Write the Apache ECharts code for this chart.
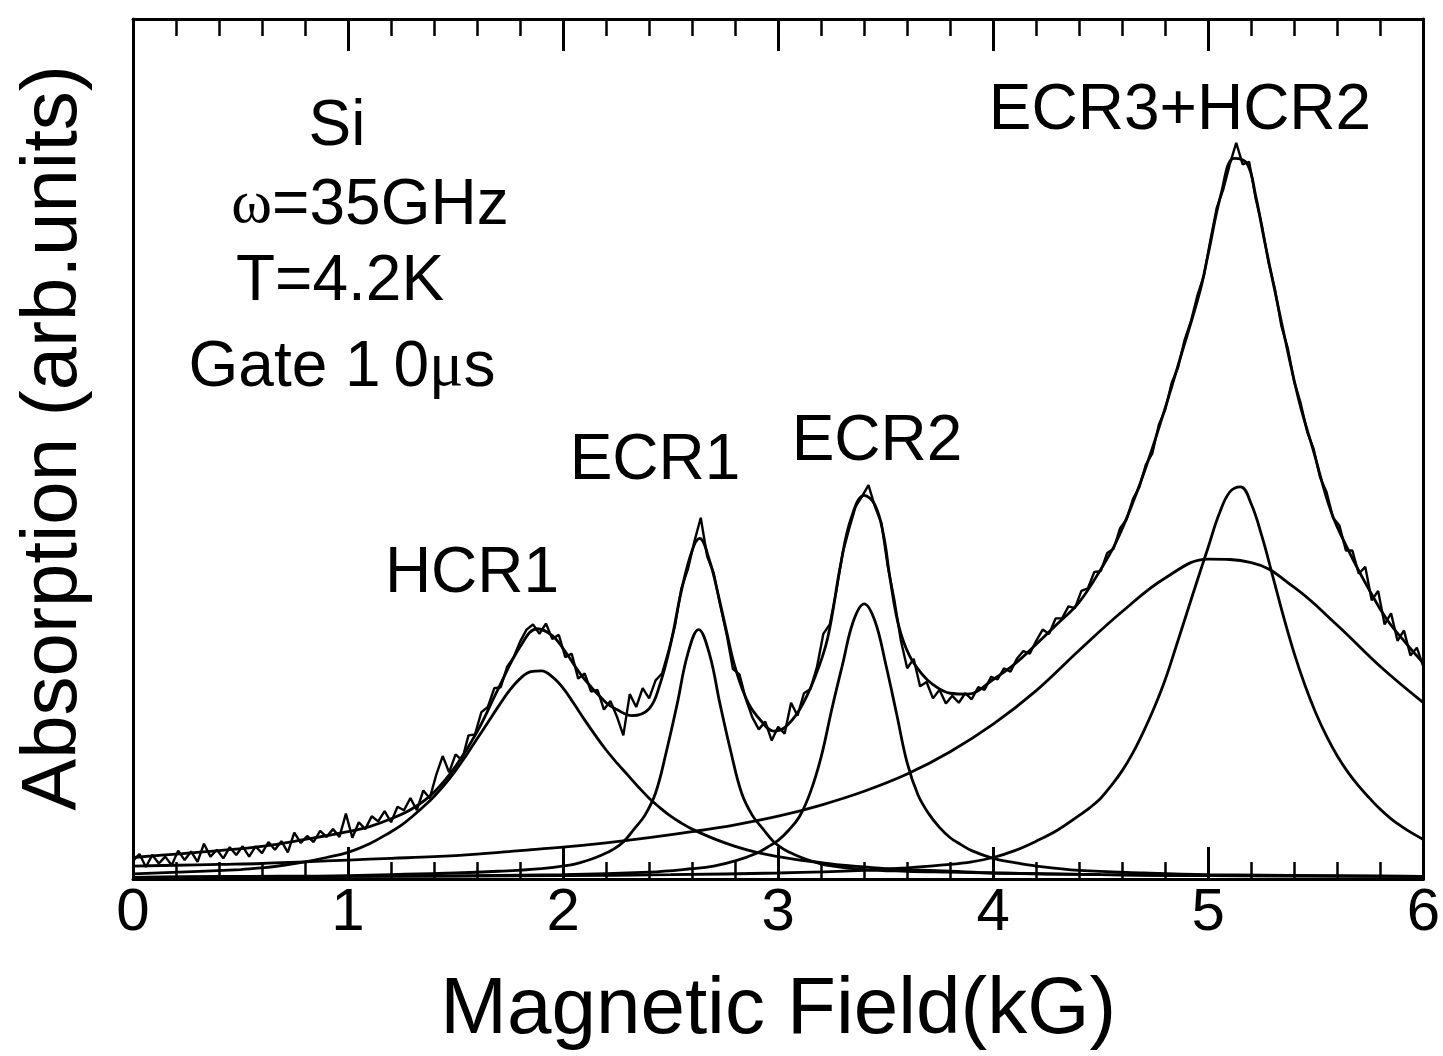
<!DOCTYPE html>
<html>
<head>
<meta charset="utf-8">
<title>Si cyclotron resonance absorption</title>
<script src="https://cdn.jsdelivr.net/npm/echarts/dist/echarts.min.js"></script>
<style>
  html, body { margin: 0; padding: 0; background: #ffffff; }
  #chart { width: 1443px; height: 1056px; }
</style>
</head>
<body>
<div id="chart"></div>
<script>
// Magnetic field axis (kG)
const fieldMin = 0;
const fieldMax = 6;
const fieldStep = 1;

// Measured absorption trace: one reading every 0.03 kG starting at 0 kG
const scanStart = 0;
const scanStep = 0.03;
const scanSignal = [
  0.021, 0.029, 0.014, 0.028, 0.018, 0.026, 0.016, 0.033, 0.022, 0.032,
  0.020, 0.041, 0.026, 0.034, 0.024, 0.037, 0.028, 0.038, 0.026, 0.038,
  0.030, 0.043, 0.034, 0.044, 0.031, 0.054, 0.042, 0.050, 0.043, 0.056,
  0.049, 0.058, 0.049, 0.076, 0.048, 0.066, 0.058, 0.073, 0.067, 0.079,
  0.066, 0.084, 0.080, 0.094, 0.080, 0.103, 0.094, 0.121, 0.143, 0.124,
  0.145, 0.138, 0.167, 0.168, 0.194, 0.200, 0.222, 0.223, 0.247, 0.258,
  0.276, 0.290, 0.296, 0.285, 0.297, 0.279, 0.284, 0.258, 0.262, 0.233,
  0.239, 0.218, 0.220, 0.197, 0.207, 0.189, 0.167, 0.215, 0.200, 0.222,
  0.210, 0.231, 0.239, 0.265, 0.294, 0.338, 0.360, 0.392, 0.420, 0.375,
  0.356, 0.319, 0.285, 0.244, 0.238, 0.209, 0.188, 0.174, 0.183, 0.161,
  0.177, 0.169, 0.205, 0.190, 0.216, 0.221, 0.246, 0.285, 0.296, 0.334,
  0.379, 0.407, 0.433, 0.445, 0.458, 0.433, 0.414, 0.363, 0.325, 0.278,
  0.245, 0.256, 0.224, 0.229, 0.210, 0.220, 0.204, 0.213, 0.205, 0.216,
  0.209, 0.223, 0.220, 0.235, 0.232, 0.245, 0.241, 0.256, 0.265, 0.262,
  0.277, 0.290, 0.285, 0.303, 0.303, 0.317, 0.315, 0.335, 0.338, 0.357,
  0.358, 0.379, 0.384, 0.408, 0.418, 0.442, 0.456, 0.482, 0.495, 0.528,
  0.546, 0.577, 0.595, 0.627, 0.649, 0.679, 0.702, 0.743, 0.781, 0.802,
  0.831, 0.856, 0.831, 0.834, 0.792, 0.759, 0.717, 0.686, 0.643, 0.617,
  0.578, 0.553, 0.520, 0.500, 0.467, 0.450, 0.420, 0.411, 0.382, 0.382,
  0.355, 0.363, 0.324, 0.335, 0.296, 0.309, 0.277, 0.289, 0.260, 0.269,
  0.247
];

// Total fitted line shape [field kG, absorption]
const fitTotal = [
  [0.0, 0.025], [0.2, 0.029], [0.4, 0.033], [0.6, 0.038], [0.8, 0.046],
  [1.0, 0.055], [1.1, 0.061], [1.2, 0.070], [1.3, 0.082], [1.4, 0.101],
  [1.5, 0.131], [1.6, 0.171], [1.7, 0.222], [1.8, 0.270], [1.88, 0.291],
  [1.95, 0.283], [2.0, 0.268], [2.1, 0.232], [2.2, 0.205], [2.25, 0.197],
  [2.32, 0.190], [2.4, 0.198], [2.45, 0.226], [2.5, 0.273], [2.55, 0.335],
  [2.6, 0.382], [2.635, 0.396], [2.68, 0.371], [2.72, 0.332], [2.76, 0.288],
  [2.8, 0.246], [2.86, 0.205], [2.92, 0.184], [2.98, 0.172], [3.03, 0.176],
  [3.1, 0.197], [3.17, 0.234], [3.23, 0.280], [3.29, 0.365], [3.34, 0.420],
  [3.40, 0.446], [3.45, 0.435], [3.49, 0.400], [3.52, 0.350], [3.56, 0.295],
  [3.61, 0.260], [3.67, 0.238], [3.72, 0.226], [3.8, 0.216], [3.88, 0.215],
  [4.0, 0.232], [4.1, 0.250], [4.2, 0.273], [4.3, 0.297], [4.4, 0.322],
  [4.5, 0.360], [4.57, 0.391], [4.65, 0.438], [4.72, 0.486], [4.8, 0.548],
  [4.87, 0.606], [4.96, 0.682], [5.0, 0.727], [5.06, 0.797], [5.12, 0.838],
  [5.18, 0.832], [5.22, 0.795], [5.26, 0.744], [5.34, 0.648], [5.42, 0.558],
  [5.49, 0.497], [5.57, 0.428], [5.65, 0.383], [5.74, 0.340], [5.83, 0.302],
  [5.92, 0.274], [6.0, 0.251]
];

// Heavy-hole cyclotron resonance, first line
const hcr1 = [
  [0.0, 0.006], [0.5, 0.011], [0.6, 0.013], [0.7, 0.016], [0.8, 0.020],
  [0.9, 0.025], [1.0, 0.031], [1.1, 0.041], [1.2, 0.055], [1.25, 0.063],
  [1.3, 0.073], [1.35, 0.084], [1.4, 0.096], [1.45, 0.110], [1.5, 0.126],
  [1.55, 0.144], [1.6, 0.163], [1.65, 0.182], [1.7, 0.201], [1.75, 0.219],
  [1.8, 0.233], [1.85, 0.241], [1.9, 0.242], [1.95, 0.235], [2.0, 0.222],
  [2.05, 0.204], [2.1, 0.185], [2.15, 0.167], [2.2, 0.150], [2.25, 0.135],
  [2.3, 0.121], [2.35, 0.107], [2.4, 0.094], [2.45, 0.083], [2.5, 0.073],
  [2.55, 0.065], [2.6, 0.058], [2.7, 0.047], [2.8, 0.038], [2.9, 0.031],
  [3.0, 0.026], [3.1, 0.022], [3.2, 0.019], [3.3, 0.016], [3.4, 0.014],
  [3.5, 0.012], [3.6, 0.011], [3.8, 0.009], [4.0, 0.007], [4.5, 0.005],
  [5.0, 0.004], [6.0, 0.003]
];

// Electron cyclotron resonance, first line
const ecr1 = [
  [0.0, 0.002], [0.5, 0.003], [1.0, 0.004], [1.5, 0.007], [1.7, 0.009],
  [1.9, 0.012], [2.03, 0.016], [2.08, 0.019], [2.13, 0.023], [2.18, 0.028],
  [2.23, 0.034], [2.28, 0.043], [2.33, 0.058], [2.38, 0.074], [2.43, 0.100],
  [2.48, 0.148], [2.53, 0.203], [2.58, 0.262], [2.63, 0.290], [2.68, 0.262],
  [2.73, 0.203], [2.78, 0.148], [2.83, 0.100], [2.88, 0.074], [2.93, 0.058],
  [2.98, 0.043], [3.03, 0.034], [3.08, 0.028], [3.13, 0.023], [3.18, 0.019],
  [3.23, 0.016], [3.4, 0.011], [3.6, 0.009], [3.8, 0.008], [4.0, 0.007],
  [4.5, 0.005], [5.0, 0.004], [6.0, 0.003]
];

// Electron cyclotron resonance, second line
const ecr2 = [
  [0.0, 0.002], [1.0, 0.003], [2.0, 0.005], [2.4, 0.008], [2.6, 0.012],
  [2.7, 0.015], [2.8, 0.021], [2.9, 0.030], [2.95, 0.037], [3.0, 0.045],
  [3.05, 0.057], [3.1, 0.073], [3.15, 0.101], [3.2, 0.142], [3.25, 0.198],
  [3.3, 0.250], [3.35, 0.300], [3.40, 0.320], [3.45, 0.300], [3.5, 0.250],
  [3.55, 0.193], [3.6, 0.135], [3.65, 0.098], [3.7, 0.076], [3.75, 0.060],
  [3.8, 0.048], [3.85, 0.040], [3.9, 0.033], [4.0, 0.024], [4.1, 0.019],
  [4.2, 0.015], [4.4, 0.010], [4.7, 0.007], [5.0, 0.005], [5.5, 0.004],
  [6.0, 0.003]
];

// Broad component of the high-field band
const ecr3 = [
  [0.0, 0.015], [0.2, 0.016], [0.4, 0.017], [0.6, 0.018], [0.8, 0.020],
  [1.0, 0.022], [1.2, 0.024], [1.4, 0.026], [1.6, 0.029], [1.8, 0.033],
  [2.0, 0.037], [2.2, 0.042], [2.4, 0.048], [2.6, 0.055], [2.8, 0.063],
  [3.0, 0.073], [3.2, 0.086], [3.4, 0.102], [3.6, 0.122], [3.8, 0.148],
  [4.0, 0.180], [4.2, 0.219], [4.4, 0.266], [4.6, 0.311], [4.8, 0.350],
  [5.0, 0.372], [5.2, 0.368], [5.4, 0.339], [5.6, 0.295], [5.8, 0.247],
  [6.0, 0.205]
];

// Narrow component of the high-field band
const hcr2 = [
  [0.0, 0.002], [1.0, 0.003], [2.0, 0.004], [2.5, 0.005], [3.0, 0.007],
  [3.4, 0.010], [3.6, 0.013], [3.8, 0.017], [3.9, 0.020], [4.0, 0.025],
  [4.1, 0.033], [4.2, 0.044], [4.3, 0.057], [4.4, 0.074], [4.45, 0.083],
  [4.5, 0.094], [4.55, 0.109], [4.6, 0.126], [4.65, 0.147], [4.7, 0.172],
  [4.75, 0.200], [4.8, 0.232], [4.85, 0.270], [4.9, 0.309], [4.95, 0.348],
  [5.0, 0.386], [5.05, 0.424], [5.1, 0.450], [5.15, 0.456], [5.2, 0.436],
  [5.25, 0.398], [5.3, 0.352], [5.35, 0.305], [5.4, 0.262], [5.45, 0.225],
  [5.5, 0.193], [5.55, 0.166], [5.6, 0.143], [5.65, 0.124], [5.7, 0.108],
  [5.75, 0.094], [5.8, 0.081], [5.85, 0.070], [5.9, 0.061], [5.95, 0.053],
  [6.0, 0.046]
];

// Text labels
const xTitle = 'Magnetic Field(kG)';
const yTitle = 'Absorption (arb.units)';

const scanData = scanSignal.map((v, i) => [+(scanStart + i * scanStep).toFixed(3), v]);

const FONT = '"Liberation Sans", Arial, Helvetica, sans-serif';
const SERIF = '"Liberation Serif", "DejaVu Serif", serif';
const INK = '#000000';

function fittedLine(name, data, width) {
  return {
    name: name,
    type: 'line',
    data: data,
    smooth: 0.4,
    showSymbol: false,
    silent: true,
    lineStyle: { color: INK, width: width },
    z: 2
  };
}

function frameAxis(position, showLabels) {
  return {
    type: 'value',
    position: position,
    min: fieldMin,
    max: fieldMax,
    interval: fieldStep,
    axisLine: { show: true, onZero: false, lineStyle: { color: INK, width: 3 } },
    axisTick: { show: true, inside: true, length: 32, lineStyle: { color: INK, width: 3 } },
    minorTick: { show: true, splitNumber: 5, length: 17, lineStyle: { color: INK, width: 2.5 } },
    axisLabel: {
      show: showLabels, color: INK, fontFamily: FONT, fontSize: 60, margin: 4,
      formatter: v => String(v)
    },
    splitLine: { show: false },
    minorSplitLine: { show: false }
  };
}

const chart = echarts.init(document.getElementById('chart'), null, { renderer: 'canvas' });

const bottomAxis = Object.assign(frameAxis('bottom', true), {
  name: xTitle,
  nameLocation: 'middle',
  nameGap: 92,
  nameTextStyle: { color: INK, fontFamily: FONT, fontSize: 80 }
});
const topAxis = frameAxis('top', false);

const annotationFont = { fill: INK, fontFamily: FONT, fontSize: 64, align: 'center', verticalAlign: 'middle' };

function note(x, y, text, rich) {
  const style = Object.assign({ text: text }, annotationFont);
  if (rich) style.rich = rich;
  return { type: 'text', x: x, y: y, style: style };
}

chart.setOption({
  backgroundColor: '#ffffff',
  animation: false,
  grid: { left: 133, right: 16, top: 19, bottom: 173, containLabel: false },
  xAxis: [bottomAxis, topAxis],
  yAxis: [
    {
      type: 'value', position: 'left', min: 0, max: 1,
      axisLine: { show: true, onZero: false, lineStyle: { color: INK, width: 3 } },
      axisTick: { show: false }, axisLabel: { show: false }, splitLine: { show: false },
      name: yTitle, nameLocation: 'middle', nameGap: 40, nameRotate: 90,
      nameTextStyle: { color: INK, fontFamily: FONT, fontSize: 78, padding: [0, 0, 0, 22] }
    },
    {
      type: 'value', position: 'right', min: 0, max: 1,
      axisLine: { show: true, onZero: false, lineStyle: { color: INK, width: 3 } },
      axisTick: { show: false }, axisLabel: { show: false }, splitLine: { show: false }
    }
  ],
  series: [
    fittedLine('HCR1', hcr1, 2.8),
    fittedLine('ECR1', ecr1, 2.8),
    fittedLine('ECR2', ecr2, 2.8),
    fittedLine('ECR3', ecr3, 2.8),
    fittedLine('HCR2', hcr2, 2.8),
    fittedLine('Fit', fitTotal, 2.8),
    {
      name: 'Measured',
      type: 'line',
      data: scanData,
      showSymbol: false,
      silent: true,
      lineStyle: { color: INK, width: 2.4 },
      z: 3
    }
  ],
  graphic: [
    note(337, 127, 'Si'),
    note(370, 206, '{w|ω}=35GHz', { w: { fontFamily: SERIF, fontSize: 62, fill: INK } }),
    note(340, 282, 'T=4.2K'),
    note(342, 368, 'Gate 1\u20090{m|μ}s', { m: { fontFamily: SERIF, fontSize: 64, fill: INK } }),
    note(472, 574, 'HCR1'),
    note(655, 461, 'ECR1'),
    note(877, 442, 'ECR2'),
    note(1180, 111, 'ECR3+HCR2')
  ]
});
</script>
</body>
</html>
